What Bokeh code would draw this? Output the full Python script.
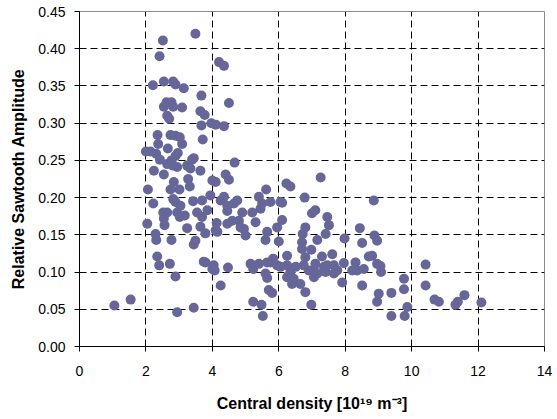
from bokeh.plotting import figure
from bokeh.models import Range1d, FixedTicker, NumeralTickFormatter, ColumnDataSource
from bokeh.embed import file_html
from bokeh.resources import INLINE

# Central density [1e19 m^-3]
density = [
    1.05, 1.54, 2.00, 2.04, 2.06, 2.14, 2.21, 2.22, 2.24, 2.29, 2.31, 2.31, 2.34, 2.35, 2.37, 2.40,
    2.41, 2.42, 2.51, 2.54, 2.54, 2.54, 2.54, 2.56, 2.52, 2.62, 2.64, 2.64, 2.64, 2.66, 2.70, 2.72,
    2.74, 2.74, 2.77, 2.77, 2.77, 2.82, 2.82, 2.82, 2.82, 2.84, 2.89, 2.89, 2.89, 2.89, 2.89, 2.94,
    2.94, 2.94, 2.96, 3.01, 3.02, 3.02, 3.04, 3.09, 3.09, 3.14, 3.17, 3.24, 3.24, 3.27, 3.32, 3.34,
    3.39, 3.42, 3.44, 3.44, 3.44, 3.49, 3.49, 3.54, 3.64, 3.64, 3.64, 3.67, 3.67, 3.69, 3.69, 3.71,
    3.74, 3.77, 3.79, 3.79, 3.85, 3.94, 3.97, 4.00, 4.00, 4.04, 4.07, 4.10, 4.10, 4.10, 4.13, 4.15,
    4.20, 4.25, 4.25, 4.35, 4.35, 4.35, 4.40, 4.45, 4.45, 4.45, 4.47, 4.50, 4.50, 4.60, 4.65, 4.67,
    4.75, 4.80, 4.85, 4.90, 4.95, 5.00, 5.15, 5.20, 5.23, 5.23, 5.30, 5.40, 5.40, 5.45, 5.48, 5.52,
    5.50, 5.60, 5.60, 5.62, 5.65, 5.65, 5.65, 5.70, 5.75, 5.75, 5.80, 5.83, 5.95, 5.95, 6.00, 6.05,
    6.05, 6.10, 6.10, 6.23, 6.25, 6.25, 6.25, 6.35, 6.35, 6.40, 6.45, 6.51, 6.65, 6.70, 6.70, 6.72,
    6.75, 6.78, 6.80, 6.80, 6.80, 6.90, 6.98, 6.98, 7.00, 7.06, 7.06, 7.10, 7.10, 7.16, 7.16, 7.26,
    7.30, 7.36, 7.41, 7.41, 7.46, 7.46, 7.51, 7.61, 7.66, 7.66, 7.76, 7.91, 7.96, 7.98, 8.21, 8.31,
    8.36, 8.44, 8.51, 8.51, 8.56, 8.71, 8.81, 8.86, 8.88, 8.96, 8.96, 8.96, 9.01, 9.06, 9.08, 9.39,
    9.39, 9.77, 9.77, 9.79, 9.87, 10.42, 10.42, 10.69, 10.82, 11.32, 11.39, 11.59, 12.10,
]

# Relative sawtooth amplitude
amplitude = [
    0.055, 0.063, 0.262, 0.165, 0.211, 0.262, 0.351, 0.192, 0.236, 0.151, 0.143, 0.259, 0.121, 0.284, 0.272, 0.109,
    0.390, 0.251, 0.411, 0.356, 0.322, 0.231, 0.172, 0.163, 0.180, 0.328, 0.310, 0.245, 0.180, 0.266, 0.306, 0.111,
    0.284, 0.211, 0.328, 0.250, 0.143, 0.356, 0.322, 0.243, 0.198, 0.221, 0.352, 0.283, 0.256, 0.194, 0.094, 0.241,
    0.180, 0.046, 0.260, 0.211, 0.281, 0.174, 0.189, 0.321, 0.272, 0.347, 0.176, 0.243, 0.159, 0.225, 0.215, 0.239,
    0.251, 0.195, 0.253, 0.137, 0.052, 0.420, 0.142, 0.180, 0.316, 0.236, 0.161, 0.337, 0.297, 0.174, 0.196, 0.278,
    0.114, 0.311, 0.152, 0.113, 0.183, 0.203, 0.300, 0.223, 0.104, 0.109, 0.102, 0.298, 0.221, 0.156, 0.166, 0.154,
    0.382, 0.196, 0.082, 0.377, 0.296, 0.201, 0.231, 0.189, 0.182, 0.165, 0.106, 0.327, 0.224, 0.169, 0.192, 0.247,
    0.196, 0.169, 0.160, 0.180, 0.158, 0.149, 0.111, 0.180, 0.104, 0.060, 0.167, 0.201, 0.111, 0.185, 0.056, 0.041,
    0.192, 0.143, 0.098, 0.211, 0.113, 0.154, 0.092, 0.076, 0.194, 0.113, 0.072, 0.118, 0.160, 0.109, 0.141, 0.194,
    0.107, 0.170, 0.193, 0.219, 0.122, 0.109, 0.093, 0.215, 0.100, 0.084, 0.091, 0.107, 0.084, 0.140, 0.131, 0.151,
    0.109, 0.200, 0.160, 0.120, 0.073, 0.102, 0.130, 0.056, 0.179, 0.102, 0.093, 0.183, 0.111, 0.143, 0.098, 0.227,
    0.121, 0.107, 0.151, 0.100, 0.174, 0.109, 0.163, 0.124, 0.109, 0.098, 0.102, 0.086, 0.112, 0.145, 0.102, 0.113,
    0.102, 0.159, 0.139, 0.082, 0.104, 0.121, 0.122, 0.196, 0.149, 0.142, 0.111, 0.060, 0.071, 0.108, 0.100, 0.072,
    0.041, 0.091, 0.077, 0.041, 0.053, 0.110, 0.082, 0.063, 0.060, 0.056, 0.060, 0.069, 0.059,
]

x_ticks = [0, 2, 4, 6, 8, 10, 12, 14]
y_ticks = [0.00, 0.05, 0.10, 0.15, 0.20, 0.25, 0.30, 0.35, 0.40, 0.45]

src = ColumnDataSource(data=dict(x=density, y=amplitude))

p = figure(width=557, height=419, output_backend="svg", toolbar_location=None,
           x_range=Range1d(0, 14), y_range=Range1d(0, 0.45),
           min_border_left=79, min_border_right=13, min_border_top=11, min_border_bottom=73)

p.scatter("x", "y", source=src, marker="circle", size=10,
          fill_color="#666699", line_color=None)

FONT = "Liberation Sans"

p.xaxis.ticker = FixedTicker(ticks=x_ticks)
p.yaxis.ticker = FixedTicker(ticks=y_ticks)
p.yaxis.formatter = NumeralTickFormatter(format="0.00")

for ax in (p.xaxis[0], p.yaxis[0]):
    ax.major_label_text_font = FONT
    ax.major_label_text_font_size = "14px"
    ax.major_label_text_color = "black"
    ax.axis_label_text_font = FONT
    ax.axis_label_text_font_style = "bold"
    ax.axis_label_text_font_size = "16px"
    ax.axis_label_text_color = "black"
    ax.axis_line_color = "black"
    ax.major_tick_line_color = "black"
    ax.major_tick_in = 0
    ax.major_tick_out = 5
    ax.minor_tick_line_color = None

p.xaxis.axis_label = "Central density [10¹⁹ m⁻³]"
p.yaxis.axis_label = "Relative Sawtooth Amplitude"
p.xaxis.major_label_standoff = 14
p.yaxis.major_label_standoff = 9
p.xaxis.axis_label_standoff = 16
p.yaxis.axis_label_standoff = 8

p.xgrid.ticker = FixedTicker(ticks=x_ticks[1:-1])
p.ygrid.ticker = FixedTicker(ticks=y_ticks[1:-1])
for g in (p.xgrid[0], p.ygrid[0]):
    g.grid_line_color = "black"
    g.grid_line_dash = "7 4"
    g.grid_line_width = 1

p.outline_line_color = "#8c8c8c"
p.outline_line_width = 1
p.background_fill_color = "white"
p.border_fill_color = "white"

open("out.html", "w").write(file_html(p, INLINE))
